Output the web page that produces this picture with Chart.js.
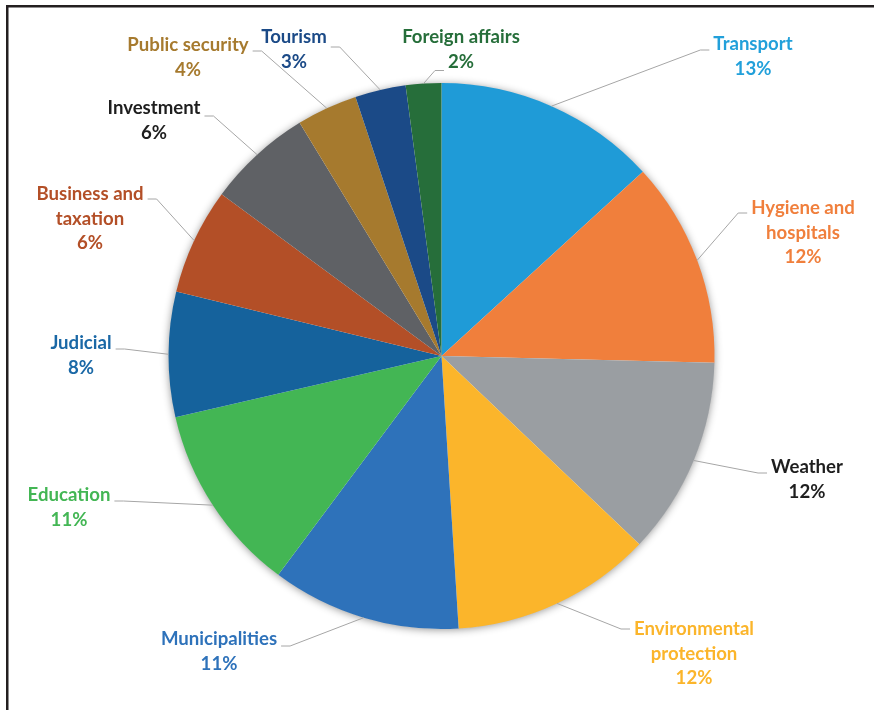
<!DOCTYPE html>
<html>
<head>
<meta charset="utf-8">
<script src="https://cdn.jsdelivr.net/npm/chart.js@4"></script>
<style>
  html, body { margin: 0; padding: 0; background: #ffffff; }
  #wrap { width: 874px; height: 710px; }
</style>
</head>
<body>
<div id="wrap"><canvas id="c" width="874" height="710"></canvas></div>
<script>
// ---- data ----
const categories = ['Transport', 'Hygiene and hospitals', 'Weather', 'Environmental protection',
  'Municipalities', 'Education', 'Judicial', 'Business and taxation', 'Investment',
  'Public security', 'Tourism', 'Foreign affairs'];
const shares = [13.2, 12.2, 11.7, 11.9, 11.2, 11.2, 7.4, 6.3, 6.2, 3.6, 3.0, 2.1];
const percentLabels = ['13%', '12%', '12%', '12%', '11%', '11%', '8%', '6%', '6%', '4%', '3%', '2%'];
const labelLines = [['Transport'], ['Hygiene and', 'hospitals'], ['Weather'], ['Environmental', 'protection'],
  ['Municipalities'], ['Education'], ['Judicial'], ['Business and', 'taxation'], ['Investment'],
  ['Public security'], ['Tourism'], ['Foreign affairs']];
const sliceColors = ['#1F9BD7', '#F07F3C', '#9A9EA2', '#FBB52B', '#2E72BA', '#43B654',
  '#15629C', '#B34F27', '#5F6165', '#A67A2E', '#1B4A87', '#266E3A'];
const textColors = ['#22A0DA', '#F07F3C', '#1E1E1E', '#FBB52B', '#2E72BA', '#43B654',
  '#1A68A6', '#B34F27', '#1E1E1E', '#A67A2E', '#1B4A87', '#266E3A'];

// ---- label layout (annotation placement) ----
const labelLayout = [
  { x: 753, y: 44, side: 'left', line: 0, dy: 6 },
  { x: 803, y: 208, side: 'left', line: 0, dy: 5 },
  { x: 807, y: 467, side: 'left', line: 0, dy: 6 },
  { x: 694, y: 629, side: 'left', line: 0, dy: 0 },
  { x: 219, y: 639, side: 'right', line: 0, dy: 7 },
  { x: 69, y: 495, side: 'right', line: 0, dy: 6 },
  { x: 81, y: 343, side: 'right', line: 0, dy: 6 },
  { x: 90, y: 194, side: 'right', line: 0, dy: 5 },
  { x: 154, y: 108, side: 'right', line: 0, dy: 8 },
  { x: 188, y: 45, side: 'right', line: 0, dy: 6 },
  { x: 294, y: 37, side: 'right', line: 0, dy: 10 },
  { x: 461, y: 37, side: 'left', line: 1, dy: 9 }
];

const FONT = 'bold 18.6px Lato, "Open Sans", sans-serif';
const LINE_H = 24.5;

const framePlugin = {
  id: 'frame',
  beforeDraw(chart) {
    const ctx = chart.ctx;
    ctx.save();
    ctx.fillStyle = '#231F20';
    ctx.fillRect(6, 5, 868, 2.5);
    ctx.fillRect(6, 5, 2.5, 705);
    ctx.restore();
  }
};

const shadowPlugin = {
  id: 'pieShadow',
  beforeDatasetsDraw(chart) {
    const arc = chart.getDatasetMeta(0).data[0];
    if (!arc) return;
    const ctx = chart.ctx;
    ctx.save();
    ctx.shadowColor = 'rgba(0,0,0,0.45)';
    ctx.shadowBlur = 9;
    ctx.shadowOffsetX = 0;
    ctx.shadowOffsetY = 1;
    ctx.fillStyle = '#ffffff';
    ctx.beginPath();
    ctx.arc(arc.x, arc.y, arc.outerRadius - 0.5, 0, Math.PI * 2);
    ctx.fill();
    ctx.restore();
  }
};

const labelPlugin = {
  id: 'outLabels',
  afterDatasetsDraw(chart) {
    const ctx = chart.ctx;
    const meta = chart.getDatasetMeta(0);
    ctx.save();
    ctx.font = FONT;
    ctx.textAlign = 'center';
    ctx.textBaseline = 'middle';
    meta.data.forEach((arc, i) => {
      const L = labelLayout[i];
      const lines = labelLines[i].concat([percentLabels[i]]);
      // leader line
      const mid = (arc.startAngle + arc.endAngle) / 2;
      const px = arc.x + Math.cos(mid) * arc.outerRadius;
      const py = arc.y + Math.sin(mid) * arc.outerRadius;
      const w = ctx.measureText(lines[L.line]).width;
      const ay = L.y + L.line * LINE_H + L.dy;
      let ax, bx;
      if (L.side === 'left') { ax = L.x - w / 2 - 4; bx = ax - 9; }
      else { ax = L.x + w / 2 + 4; bx = ax + 9; }
      ctx.strokeStyle = '#A6A6A6';
      ctx.lineWidth = 1;
      ctx.beginPath();
      ctx.moveTo(ax, ay);
      ctx.lineTo(bx, ay);
      ctx.lineTo(px, py);
      ctx.stroke();
      // text
      ctx.fillStyle = textColors[i];
      lines.forEach((t, k) => ctx.fillText(t, L.x, L.y + k * LINE_H));
    });
    ctx.restore();
  }
};

new Chart(document.getElementById('c'), {
  type: 'pie',
  data: {
    labels: categories,
    datasets: [{
      data: shares,
      backgroundColor: sliceColors,
      borderWidth: 0,
      hoverOffset: 0
    }]
  },
  options: {
    responsive: false,
    animation: false,
    devicePixelRatio: 1,
    events: [],
    layout: { padding: { top: 83, bottom: 81, left: 168.5, right: 159.5 } },
    plugins: { legend: { display: false }, tooltip: { enabled: false } }
  },
  plugins: [framePlugin, shadowPlugin, labelPlugin]
});
</script>
</body>
</html>
